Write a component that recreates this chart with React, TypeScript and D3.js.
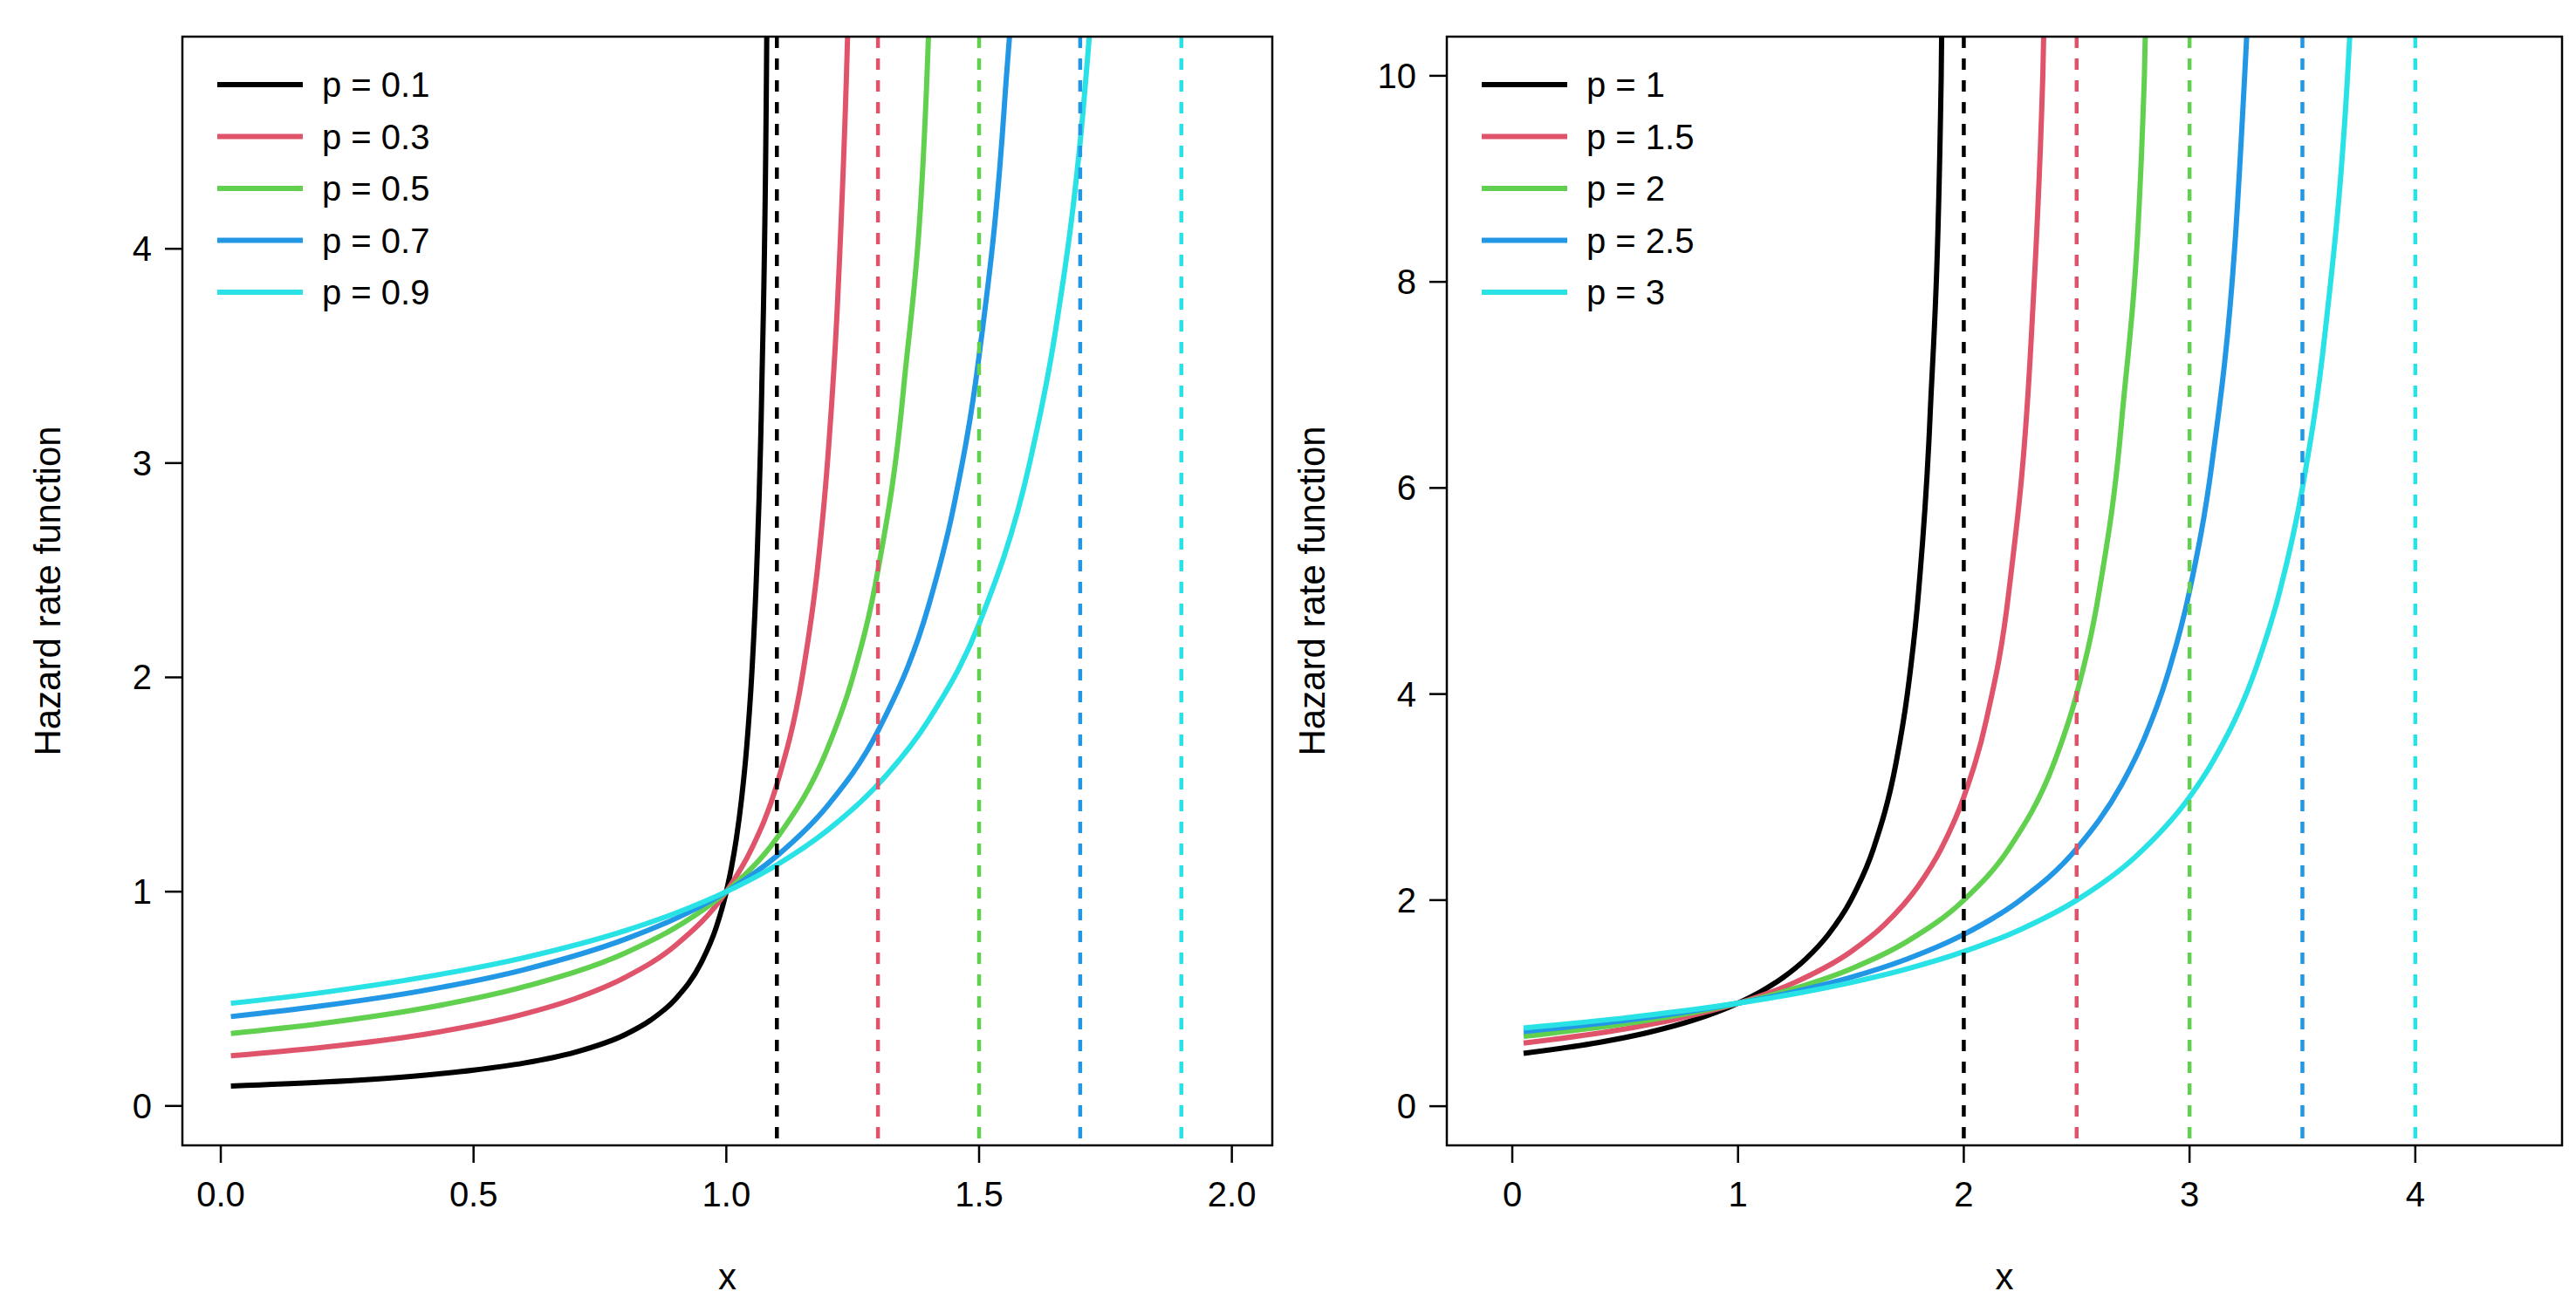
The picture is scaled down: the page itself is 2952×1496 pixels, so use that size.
import * as d3 from "d3"

const W = 2952
const H = 1496
const COLORS = ["#000000", "#DF536B", "#61D04F", "#2297E6", "#28E2E5"]

// Left panel
const leftLabels = ["p = 0.1", "p = 0.3", "p = 0.5", "p = 0.7", "p = 0.9"]
const leftAsymptotes = [1.1, 1.3, 1.5, 1.7, 1.9]
const leftXs = [
  [0.02, 0.2, 0.4, 0.5, 0.6, 0.7, 0.8, 0.85, 0.9, 0.95, 0.98, 1.0, 1.01, 1.02, 1.03, 1.04, 1.05, 1.06, 1.07, 1.08, 1.09],
  [0.02, 0.2, 0.4, 0.6, 0.7, 0.8, 0.9, 1.0, 1.05, 1.1, 1.15, 1.18, 1.2, 1.22, 1.24, 1.25, 1.27],
  [0.02, 0.2, 0.4, 0.6, 0.8, 0.9, 1.0, 1.1, 1.2, 1.25, 1.3, 1.35, 1.4, 1.45],
  [0.02, 0.2, 0.4, 0.6, 0.8, 0.9, 1.0, 1.1, 1.2, 1.3, 1.4, 1.45, 1.5, 1.55, 1.6, 1.65],
  [0.02, 0.2, 0.4, 0.6, 0.8, 0.9, 1.0, 1.1, 1.2, 1.3, 1.4, 1.5, 1.6, 1.65, 1.7, 1.75],
]
const leftYs = [
  [0.093, 0.111, 0.143, 0.167, 0.2, 0.25, 0.333, 0.4, 0.5, 0.667, 0.833, 1, 1.111, 1.25, 1.43, 1.667, 2, 2.5, 3.33, 5, 10],
  [0.234, 0.273, 0.333, 0.429, 0.5, 0.6, 0.75, 1, 1.2, 1.5, 2, 2.5, 3, 3.75, 5, 6, 10],
  [0.338, 0.385, 0.455, 0.556, 0.714, 0.833, 1, 1.25, 1.667, 2, 2.5, 3.333, 5, 10],
  [0.417, 0.467, 0.538, 0.636, 0.778, 0.875, 1, 1.167, 1.4, 1.75, 2.333, 2.8, 3.5, 4.667, 7, 14],
  [0.479, 0.529, 0.6, 0.692, 0.818, 0.9, 1, 1.125, 1.286, 1.5, 1.8, 2.25, 3, 3.6, 4.5, 6],
]
const leftXTicks = [0, 0.5, 1, 1.5, 2]
const leftYTicks = [0, 1, 2, 3, 4]

// Right panel
const rightLabels = ["p = 1", "p = 1.5", "p = 2", "p = 2.5", "p = 3"]
const rightAsymptotes = [2, 2.5, 3, 3.5, 4]
const rightXs = [
  [0.05, 0.4, 0.6, 0.8, 1, 1.1, 1.2, 1.3, 1.4, 1.5, 1.6, 1.7, 1.75, 1.8, 1.85, 1.9, 1.95],
  [0.05, 0.5, 0.75, 1, 1.25, 1.5, 1.65, 1.8, 1.9, 2, 2.1, 2.2, 2.3, 2.35, 2.4],
  [0.05, 0.5, 0.75, 1, 1.25, 1.5, 1.75, 2, 2.2, 2.4, 2.5, 2.6, 2.7, 2.8, 2.9],
  [0.05, 0.5, 0.75, 1, 1.25, 1.5, 1.75, 2, 2.25, 2.5, 2.7, 2.8, 2.9, 3, 3.1, 3.2, 3.3],
  [0.05, 0.5, 0.75, 1, 1.25, 1.5, 1.75, 2, 2.25, 2.5, 2.75, 3, 3.1, 3.3, 3.4, 3.5, 3.6, 3.7, 3.8],
]
const rightYs = [
  [0.513, 0.625, 0.714, 0.833, 1, 1.111, 1.25, 1.429, 1.667, 2, 2.5, 3.333, 4, 5, 6.667, 10, 20],
  [0.612, 0.75, 0.857, 1, 1.2, 1.5, 1.765, 2.143, 2.5, 3, 3.75, 5, 7.5, 10, 15],
  [0.678, 0.8, 0.889, 1, 1.143, 1.333, 1.6, 2, 2.5, 3.333, 4, 5, 6.667, 10, 20],
  [0.725, 0.833, 0.909, 1, 1.111, 1.25, 1.429, 1.667, 2, 2.5, 3.125, 3.571, 4.167, 5, 6.25, 8.333, 12.5],
  [0.759, 0.857, 0.923, 1, 1.091, 1.2, 1.333, 1.5, 1.714, 2, 2.4, 3, 3.333, 4.286, 5, 6, 7.5, 10, 15],
]
const rightXTicks = [0, 1, 2, 3, 4]
const rightYTicks = [0, 2, 4, 6, 8, 10]

const FONT = "Liberation Sans, Arial, sans-serif"

function Panel(props: {
  id: string
  box: [number, number, number, number]
  xDom: [number, number]
  yDom: [number, number]
  xTicks: number[]
  yTicks: number[]
  xFmt: (d: number) => string
  xs: number[][]
  ys: number[][]
  asym: number[]
  labels: string[]
}) {
  const [l, r, t, b] = props.box
  const x = d3.scaleLinear().domain(props.xDom).range([l, r])
  const y = d3.scaleLinear().domain(props.yDom).range([b, t])
  const line = d3
    .line<[number, number]>()
    .x((d) => x(d[0]))
    .y((d) => y(d[1]))
    .curve(d3.curveMonotoneX)
  const fs = 40
  return (
    <g>
      <defs>
        <clipPath id={props.id}>
          <rect x={l} y={t} width={r - l} height={b - t} />
        </clipPath>
      </defs>
      <g clipPath={`url(#${props.id})`}>
        {props.xs.map((xs, i) => (
          <path
            key={i}
            d={line(xs.map((v, j) => [v, props.ys[i][j]]))!}
            fill="none"
            stroke={COLORS[i]}
            strokeWidth={6}
          />
        ))}
        {props.asym.map((a, i) => (
          <line
            key={"a" + i}
            x1={x(a)}
            x2={x(a)}
            y1={t}
            y2={b}
            stroke={COLORS[i]}
            strokeWidth={4.5}
            strokeDasharray="13,12"
          />
        ))}
      </g>
      <rect x={l} y={t} width={r - l} height={b - t} fill="none" stroke="#000" strokeWidth={2.5} />
      {props.xTicks.map((v) => (
        <g key={"x" + v}>
          <line x1={x(v)} x2={x(v)} y1={b} y2={b + 20} stroke="#000" strokeWidth={2.5} />
          <text x={x(v)} y={b + 70} fontSize={fs} textAnchor="middle" fontFamily={FONT}>
            {props.xFmt(v)}
          </text>
        </g>
      ))}
      {props.yTicks.map((v) => (
        <g key={"y" + v}>
          <line x1={l} x2={l - 20} y1={y(v)} y2={y(v)} stroke="#000" strokeWidth={2.5} />
          <text x={l - 35} y={y(v) + 14} fontSize={fs} textAnchor="end" fontFamily={FONT}>
            {v}
          </text>
        </g>
      ))}
      <text x={(l + r) / 2} y={b + 165} fontSize={42} textAnchor="middle" fontFamily={FONT}>
        x
      </text>
      <text
        transform={`translate(${l - 140},${(t + b) / 2}) rotate(-90)`}
        fontSize={42}
        textAnchor="middle"
        fontFamily={FONT}
      >
        Hazard rate function
      </text>
      {props.labels.map((lab, i) => (
        <g key={lab}>
          <line
            x1={l + 40}
            x2={l + 138}
            y1={t + 55 + i * 59.5}
            y2={t + 55 + i * 59.5}
            stroke={COLORS[i]}
            strokeWidth={6}
          />
          <text x={l + 160} y={t + 69 + i * 59.5} fontSize={fs} fontFamily={FONT}>
            {lab}
          </text>
        </g>
      ))}
    </g>
  )
}

export default function App() {
  return (
    <svg width={W} height={H} style={{ display: "block", background: "#fff" }}>
      <Panel
        id="cl"
        box={[201, 1450, 34, 1305]}
        xDom={[-0.076, 2.08]}
        yDom={[-0.184, 4.99]}
        xTicks={leftXTicks}
        yTicks={leftYTicks}
        xFmt={(d) => d.toFixed(1)}
        xs={leftXs}
        ys={leftYs}
        asym={leftAsymptotes}
        labels={leftLabels}
      />
      <Panel
        id="cr"
        box={[1650, 2928, 34, 1305]}
        xDom={[-0.29, 4.65]}
        yDom={[-0.38, 10.38]}
        xTicks={rightXTicks}
        yTicks={rightYTicks}
        xFmt={(d) => String(d)}
        xs={rightXs}
        ys={rightYs}
        asym={rightAsymptotes}
        labels={rightLabels}
      />
    </svg>
  )
}
